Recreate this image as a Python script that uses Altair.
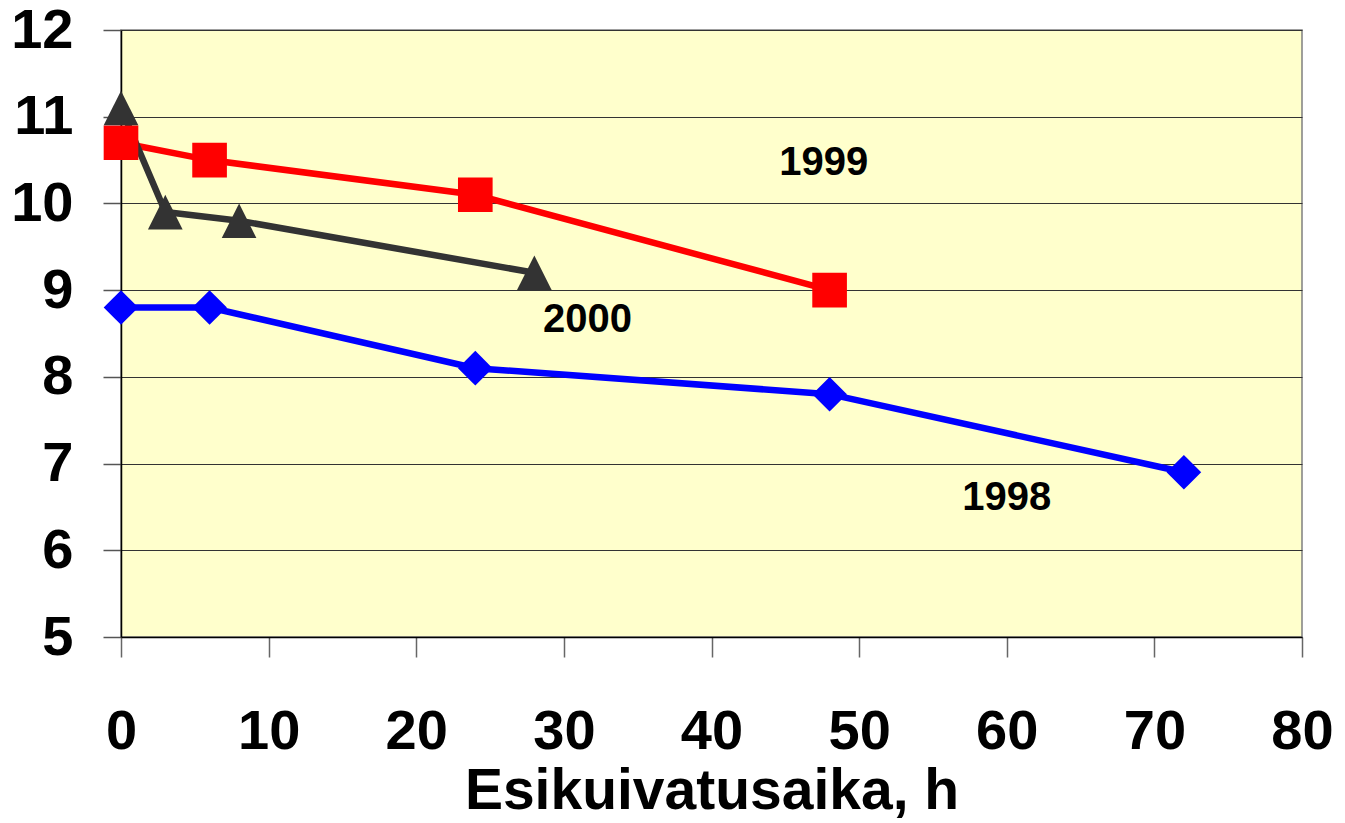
import altair as alt
import pandas as pd

# Data
series_names = ["1998", "1999", "2000"]
x_1998 = [0, 6, 24, 48, 72]
y_1998 = [8.8, 8.8, 8.1, 7.8, 6.9]
x_1999 = [0, 6, 24, 48]
y_1999 = [10.7, 10.5, 10.1, 9.0]
x_2000 = [0, 3, 8, 28]
y_2000 = [11.1, 9.9, 9.8, 9.2]

label_text = ["1999", "2000", "1998"]
label_x = [47.6, 31.6, 60.0]
label_y = [10.47, 8.65, 6.6]

x_ticks = [0, 10, 20, 30, 40, 50, 60, 70, 80]
y_ticks = [5, 6, 7, 8, 9, 10, 11, 12]

series_colors = ["#0000FF", "#FF0000", "#333333"]
series_shapes = ["diamond", "square", "M0,-1L1,1L-1,1Z"]

rows = []
for name, xs, ys in zip(series_names, [x_1998, x_1999, x_2000], [y_1998, y_1999, y_2000]):
    for i, (xv, yv) in enumerate(zip(xs, ys)):
        rows.append({"series": name, "x": xv, "y": yv, "order": i})
df = pd.DataFrame(rows)
labels_df = pd.DataFrame({"text": label_text, "x": label_x, "y": label_y})

FONT = "Liberation Sans"

x_enc = alt.X(
    "x:Q",
    scale=alt.Scale(domain=[0, 80], nice=False, zero=False),
    axis=alt.Axis(
        values=x_ticks,
        format="d",
        grid=False,
        tickSize=20,
        tickColor="#666666",
        tickWidth=1.5,
        domainColor="#000000",
        domainWidth=1.5,
        labelFont=FONT,
        labelFontWeight="bold",
        labelFontSize=56,
        labelColor="#000000",
        labelPadding=47,
        labelFlush=False,
        labelOverlap=False,
        title="Esikuivatusaika, h",
        titleFont=FONT,
        titleFontWeight="bold",
        titleFontSize=57,
        titleColor="#000000",
        titleBaseline="alphabetic",
        titleY=171,
    ),
)
y_enc = alt.Y(
    "y:Q",
    scale=alt.Scale(domain=[5, 12], nice=False, zero=False),
    axis=alt.Axis(
        values=y_ticks,
        format="d",
        grid=True,
        gridColor="#333333",
        gridWidth=1,
        tickSize=18,
        tickColor="#555555",
        tickWidth=1.5,
        domainColor="#000000",
        domainWidth=1.5,
        labelFont=FONT,
        labelFontWeight="bold",
        labelFontSize=56,
        labelColor="#000000",
        labelPadding=30,
        labelOverlap=False,
        title=None,
    ),
)
color_enc = alt.Color(
    "series:N",
    scale=alt.Scale(domain=series_names, range=series_colors),
    legend=None,
)
shape_enc = alt.Shape(
    "series:N",
    scale=alt.Scale(domain=series_names, range=series_shapes),
    legend=None,
)

lines = alt.Chart(df).mark_line(strokeWidth=6.5).encode(
    x=x_enc, y=y_enc, color=color_enc, detail="series:N", order="order:Q"
)
points = alt.Chart(df).mark_point(filled=True, opacity=1, size=1200, strokeWidth=0).encode(
    x="x:Q", y="y:Q", color=color_enc, shape=shape_enc
)
labels = alt.Chart(labels_df).mark_text(
    font=FONT, fontWeight="bold", fontSize=40, color="#000000", align="center", baseline="middle"
).encode(x="x:Q", y="y:Q", text="text:N")

chart = (
    alt.layer(lines, points, labels)
    .properties(
        width=1181,
        height=607,
        padding={"left": 113, "top": 22, "right": 35, "bottom": 185},
        autosize=alt.AutoSizeParams(type="none"),
        background="#FFFFFF",
    )
    .configure_view(fill="#FFFFCC", stroke="#808080", strokeWidth=1.5)
)

chart.save("out.html", embed_options={"renderer": "svg", "actions": False})
